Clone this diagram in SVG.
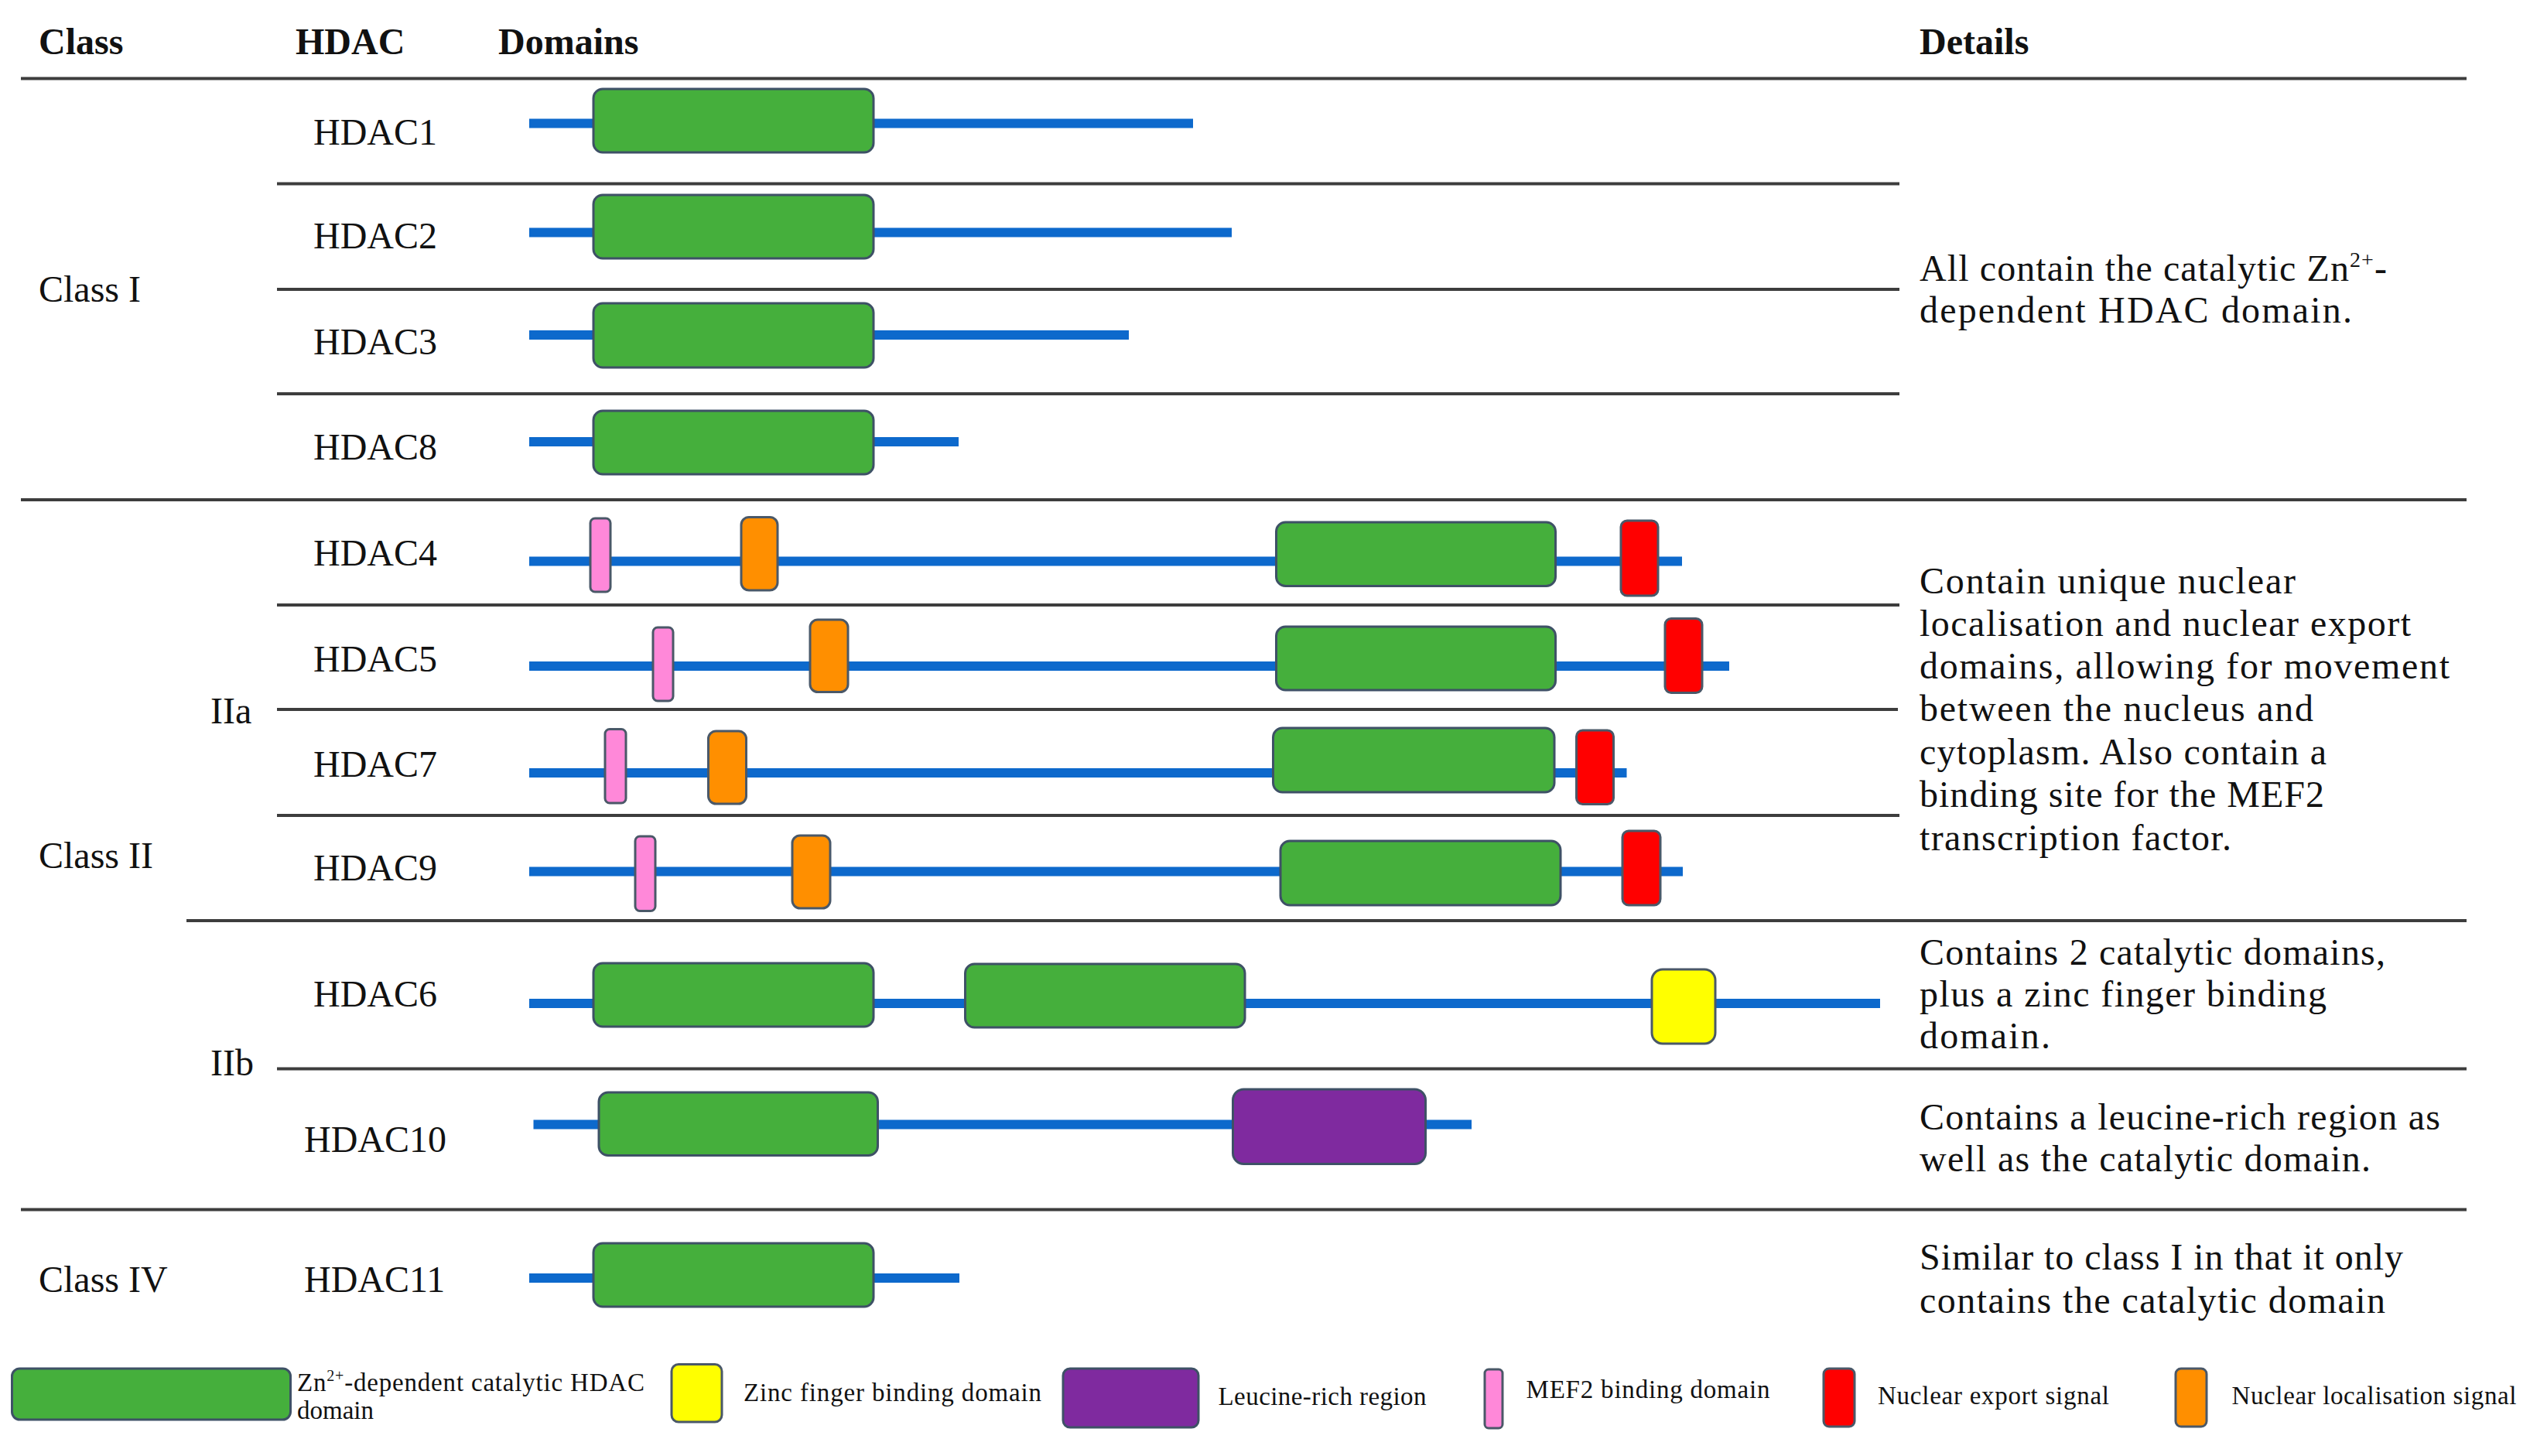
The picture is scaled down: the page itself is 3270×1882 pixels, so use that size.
<svg xmlns="http://www.w3.org/2000/svg" width="3270" height="1882" viewBox="0 0 3270 1882">
<style>
text{font-family:"Liberation Serif","Times New Roman",serif;fill:#111;}
.h{font-size:48px;font-weight:bold;}
.t{font-size:48px;}
.d{font-size:48px;}
.lg{font-size:33px;}
.sup{font-size:28px;}
.rule{stroke:#3d3d3d;stroke-width:4;fill:none;}
.bb{stroke:#0D69CC;stroke-width:12;stroke-linecap:butt;}
.cat{fill:#45AF3C;stroke:#3E5166;stroke-width:3;}
.mef{fill:#FF88D9;stroke:#4A5868;stroke-width:3;}
.nls{fill:#FF8F00;stroke:#4A5868;stroke-width:3;}
.nes{fill:#FF0000;stroke:#4A5868;stroke-width:3;}
.znf{fill:#FFFF00;stroke:#4A5868;stroke-width:3;}
.leu{fill:#7F2A9F;stroke:#3E5166;stroke-width:3;}
</style>
<rect width="3270" height="1882" fill="#ffffff"/>

<g id="headers">
<text class="h" x="50" y="70">Class</text>
<text class="h" x="382" y="70">HDAC</text>
<text class="h" x="644" y="70">Domains</text>
<text class="h" x="2481" y="70">Details</text>
</g>

<g id="rules">
<line class="rule" x1="27" y1="101.5" x2="3188" y2="101.5"/>
<line class="rule" x1="358" y1="237.5" x2="2455" y2="237.5"/>
<line class="rule" x1="358" y1="374" x2="2455" y2="374"/>
<line class="rule" x1="358" y1="509" x2="2455" y2="509"/>
<line class="rule" x1="27" y1="646" x2="3188" y2="646"/>
<line class="rule" x1="358" y1="782" x2="2455" y2="782"/>
<line class="rule" x1="358" y1="917" x2="2453" y2="917"/>
<line class="rule" x1="358" y1="1054" x2="2455" y2="1054"/>
<line class="rule" x1="241" y1="1190" x2="3188" y2="1190"/>
<line class="rule" x1="358" y1="1381.5" x2="3188" y2="1381.5"/>
<line class="rule" x1="27" y1="1563.5" x2="3188" y2="1563.5"/>
</g>

<g id="class-labels">
<text class="t" x="50" y="390">Class I</text>
<text class="t" x="272" y="935">IIa</text>
<text class="t" x="50" y="1122">Class II</text>
<text class="t" x="272" y="1390">IIb</text>
<text class="t" x="50" y="1670">Class IV</text>
</g>

<g id="HDAC1">
<text class="t" x="405" y="187">HDAC1</text>
<line class="bb" x1="684" y1="159.5" x2="1542" y2="159.5"/>
<rect class="cat" x="767" y="115" width="362" height="82" rx="12"/>
</g>
<g id="HDAC2">
<text class="t" x="405" y="321">HDAC2</text>
<line class="bb" x1="684" y1="300.5" x2="1592" y2="300.5"/>
<rect class="cat" x="767" y="252" width="362" height="82" rx="12"/>
</g>
<g id="HDAC3">
<text class="t" x="405" y="458">HDAC3</text>
<line class="bb" x1="684" y1="433" x2="1459" y2="433"/>
<rect class="cat" x="767" y="392" width="362" height="83" rx="12"/>
</g>
<g id="HDAC8">
<text class="t" x="405" y="594">HDAC8</text>
<line class="bb" x1="684" y1="571" x2="1239" y2="571"/>
<rect class="cat" x="767" y="531" width="362" height="82" rx="12"/>
</g>

<g id="details-class1">
<text class="d" x="2481" y="363" textLength="604">All contain the catalytic Zn<tspan class="sup" dy="-18">2+</tspan><tspan dy="18">-</tspan></text>
<text class="d" x="2481" y="417" textLength="559">dependent HDAC domain.</text>
</g>

<g id="HDAC4">
<text class="t" x="405" y="731">HDAC4</text>
<line class="bb" x1="684" y1="725.5" x2="2174" y2="725.5"/>
<rect class="mef" x="763" y="670" width="26" height="95" rx="6"/>
<rect class="nls" x="958" y="668.5" width="47" height="94.5" rx="10"/>
<rect class="cat" x="1649.5" y="675" width="361" height="82.5" rx="12"/>
<rect class="nes" x="2095" y="673" width="48" height="97" rx="8"/>
</g>
<g id="HDAC5">
<text class="t" x="405" y="868">HDAC5</text>
<line class="bb" x1="684" y1="861" x2="2235" y2="861"/>
<rect class="mef" x="844" y="811" width="26" height="95" rx="6"/>
<rect class="nls" x="1047" y="801" width="49" height="93.5" rx="10"/>
<rect class="cat" x="1649.5" y="810" width="361" height="82" rx="12"/>
<rect class="nes" x="2152" y="799.5" width="48" height="96" rx="8"/>
</g>
<g id="HDAC7">
<text class="t" x="405" y="1003.5">HDAC7</text>
<line class="bb" x1="684" y1="999" x2="2102.5" y2="999"/>
<rect class="mef" x="782" y="942.5" width="27" height="95.5" rx="6"/>
<rect class="nls" x="915.5" y="945" width="49" height="94" rx="10"/>
<rect class="cat" x="1645.5" y="941" width="363.5" height="83" rx="12"/>
<rect class="nes" x="2037.5" y="944" width="48" height="95.5" rx="8"/>
</g>
<g id="HDAC9">
<text class="t" x="405" y="1138">HDAC9</text>
<line class="bb" x1="684" y1="1126.5" x2="2175" y2="1126.5"/>
<rect class="mef" x="821" y="1081" width="26" height="96.5" rx="6"/>
<rect class="nls" x="1024" y="1080" width="49" height="94" rx="10"/>
<rect class="cat" x="1655" y="1087" width="362" height="83" rx="12"/>
<rect class="nes" x="2097" y="1074" width="49" height="96" rx="8"/>
</g>

<g id="details-class2a">
<text class="d" x="2481" y="767" textLength="486">Contain unique nuclear</text>
<text class="d" x="2481" y="822" textLength="635">localisation and nuclear export</text>
<text class="d" x="2481" y="877" textLength="685">domains, allowing for movement</text>
<text class="d" x="2481" y="932" textLength="509">between the nucleus and</text>
<text class="d" x="2481" y="988" textLength="526">cytoplasm. Also contain a</text>
<text class="d" x="2481" y="1043" textLength="523">binding site for the MEF2</text>
<text class="d" x="2481" y="1099" textLength="403">transcription factor.</text>
</g>

<g id="HDAC6">
<text class="t" x="405" y="1301">HDAC6</text>
<line class="bb" x1="684" y1="1297" x2="2430" y2="1297"/>
<rect class="cat" x="767" y="1245" width="362" height="82" rx="12"/>
<rect class="cat" x="1247.5" y="1246" width="361.5" height="82" rx="12"/>
<rect class="znf" x="2135" y="1253" width="82" height="96" rx="14"/>
</g>
<g id="HDAC10">
<text class="t" x="393" y="1489">HDAC10</text>
<line class="bb" x1="689.5" y1="1453.5" x2="1902" y2="1453.5"/>
<rect class="cat" x="774" y="1412" width="360.5" height="81.5" rx="12"/>
<rect class="leu" x="1593.5" y="1408" width="249" height="96.5" rx="14"/>
</g>

<g id="details-class2b">
<text class="d" x="2481" y="1247" textLength="602">Contains 2 catalytic domains,</text>
<text class="d" x="2481" y="1301" textLength="526">plus a zinc finger binding</text>
<text class="d" x="2481" y="1355" textLength="169">domain.</text>
<text class="d" x="2481" y="1460" textLength="673">Contains a leucine-rich region as</text>
<text class="d" x="2481" y="1514" textLength="583">well as the catalytic domain.</text>
</g>

<g id="HDAC11">
<text class="t" x="393" y="1670">HDAC11</text>
<line class="bb" x1="684" y1="1652" x2="1240" y2="1652"/>
<rect class="cat" x="767" y="1607" width="362" height="82" rx="12"/>
</g>

<g id="details-class4">
<text class="d" x="2481" y="1641" textLength="625">Similar to class I in that it only</text>
<text class="d" x="2481" y="1697" textLength="602">contains the catalytic domain</text>
</g>

<g id="legend">
<rect class="cat" x="15.5" y="1769" width="360" height="66" rx="10"/>
<text class="lg" x="384" y="1798" textLength="449">Zn<tspan font-size="20" dy="-13">2+</tspan><tspan dy="13">-dependent catalytic HDAC</tspan></text>
<text class="lg" x="384" y="1834">domain</text>
<rect class="znf" x="868" y="1763.5" width="65" height="74.5" rx="9"/>
<text class="lg" x="961" y="1811" textLength="385">Zinc finger binding domain</text>
<rect class="leu" x="1374" y="1769" width="175" height="76" rx="9"/>
<text class="lg" x="1574.5" y="1815.5" textLength="269">Leucine-rich region</text>
<rect class="mef" x="1919" y="1770" width="23" height="76" rx="5"/>
<text class="lg" x="1972.5" y="1807" textLength="315">MEF2 binding domain</text>
<rect class="nes" x="2357" y="1769" width="40" height="75" rx="7"/>
<text class="lg" x="2427" y="1815" textLength="299">Nuclear export signal</text>
<rect class="nls" x="2812" y="1769" width="40" height="75" rx="7"/>
<text class="lg" x="2884.5" y="1815" textLength="368">Nuclear localisation signal</text>
</g>
</svg>
